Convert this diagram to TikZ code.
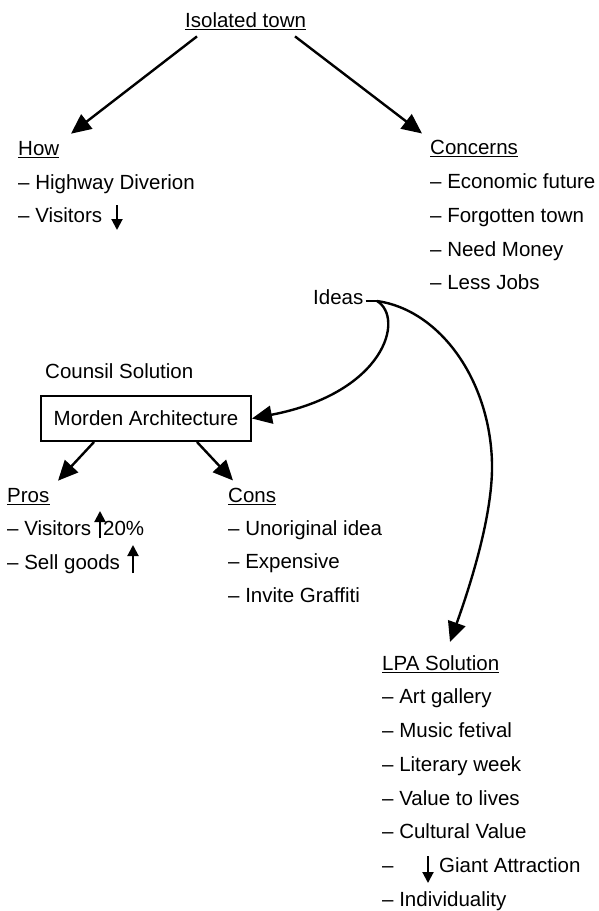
\documentclass[tikz,border=0pt]{standalone}
\usepackage{fontspec}
\setmainfont{Liberation Sans}
\usetikzlibrary{arrows.meta}
\begin{document}
\begin{tikzpicture}[x=1pt,y=-1pt,
  txt/.style={anchor=base west, inner sep=0pt, font=\fontsize{20.5}{24}\selectfont},
  bigarr/.style={line width=2.4pt, -{Triangle[length=20pt,width=18pt]}},
  tinyarr/.style={line width=2pt, -{Triangle[length=11pt,width=11pt]}},
  ulline/.style={line width=1.4pt},
  curve/.style={line width=2.4pt},
  boxstyle/.style={draw, line width=2pt, minimum width=210pt, minimum height=45pt,
    inner sep=0pt, font=\fontsize{20.5}{24}\selectfont}]
\useasboundingbox (0,0) rectangle (598,911);

% headers and items
\node[txt] (iso) at (185,27) {Isolated town};
\node[txt] (how) at (18,155) {How};
\node[txt] (how1) at (18,189) {– Highway Diverion};
\node[txt] (how2) at (18,222) {– Visitors};

\node[txt] (con) at (430,154) {Concerns};
\node[txt] (con1) at (430,188) {– Economic future};
\node[txt] (con2) at (430,222) {– Forgotten town};
\node[txt] (con3) at (430,256) {– Need Money};
\node[txt] (con4) at (430,289) {– Less Jobs};

\node[txt] (ideas) at (313,304) {Ideas};
\node[txt] (cs) at (45,378) {Counsil Solution};
\node[boxstyle] (box) at (146,418.5) {Morden Architecture};

\node[txt] (pros) at (7,502) {Pros};
\node[txt] (pro1) at (7,535) {– Visitors};
\node[txt] (pro1b) at (103,535) {20\%};
\node[txt] (pro2) at (7,569) {– Sell goods};

\node[txt] (cons) at (228,502) {Cons};
\node[txt] (cons1) at (228,535) {– Unoriginal idea};
\node[txt] (cons2) at (228,568) {– Expensive};
\node[txt] (cons3) at (228,602) {– Invite Graffiti};

\node[txt] (lpa) at (382,670) {LPA Solution};
\node[txt] (lpa1) at (382,703) {– Art gallery};
\node[txt] (lpa2) at (382,737) {– Music fetival};
\node[txt] (lpa3) at (382,771) {– Literary week};
\node[txt] (lpa4) at (382,805) {– Value to lives};
\node[txt] (lpa5) at (382,838) {– Cultural Value};
\node[txt] (lpa6) at (382,872) {–};
\node[txt] (lpa6b) at (439,872) {Giant Attraction};
\node[txt] (lpa7) at (382,906) {– Individuality};

% underlines
\foreach \n in {iso,how,con,pros,cons,lpa}
  \draw[ulline] ([shift={(0,2.6)}]\n.base west) -- ([shift={(0,2.6)}]\n.base east);

% small arrows inside the text lines
\draw[tinyarr] (117,205) -- (117,230);
\draw[tinyarr] (100,538) -- (100,511);
\draw[tinyarr] (133,573) -- (133,545);
\draw[tinyarr] (428,856) -- (428,883);

% connectors
\draw[bigarr] ([shift={(12,9)}]iso.south west) -- ([shift={(53,-7)}]how.north west);
\draw[bigarr] ([shift={(110,9)}]iso.south west) -- ([shift={(-8,-6)}]con.north west);

\coordinate (split) at (377,301);
\draw[curve] ([shift={(2,-3)}]ideas.base east) -- (split);
\draw[bigarr] (split) .. controls (405,318) and (385,393) .. (box.east);
\draw[curve] (split) .. controls (440,310) and (490,380) .. (492,463) coordinate (mid);
\draw[bigarr] (mid) .. controls (493,510) and (474,575) .. ([shift={(68,-13)}]lpa.north west);

\draw[bigarr] ([shift={(54,0)}]box.south west) -- ([shift={(51,-7)}]pros.north west);
\draw[bigarr] ([shift={(157,0)}]box.south west) -- ([shift={(5,-7)}]cons.north west);
\end{tikzpicture}
\end{document}
